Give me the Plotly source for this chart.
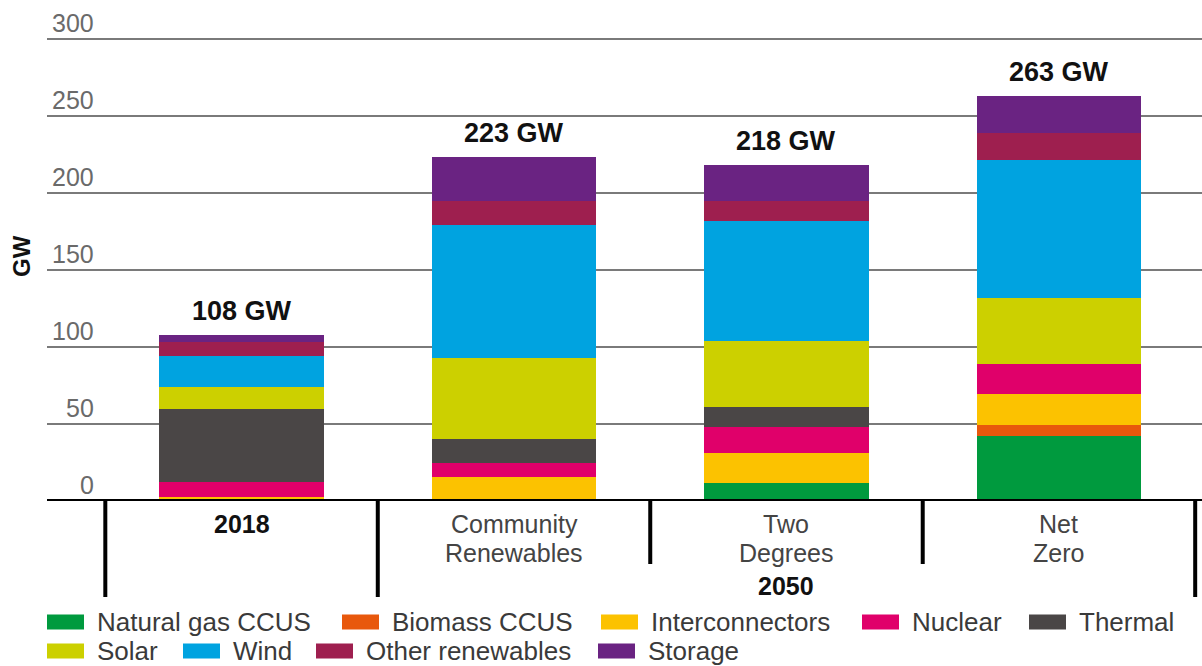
import plotly.graph_objects as go

# Installed capacity by technology (GW)
scenarios = ["2018", "Community Renewables", "Two Degrees", "Net Zero"]
scenario_lines = [["<b>2018</b>"], ["Community", "Renewables"], ["Two", "Degrees"], ["Net", "Zero"]]

natural_gas_ccus = [0, 0, 11.5, 42.5]
biomass_ccus = [0, 0, 0, 7]
interconnectors = [2.5, 15.5, 19.5, 20]
nuclear = [10, 9, 17, 19.5]
thermal = [47.5, 16, 13, 0]
solar = [14, 52.5, 43, 42.5]
wind = [20, 86, 78, 90]
other_renewables = [9.5, 15.5, 13, 17.5]
storage = [4.5, 28.5, 23, 24]

series_names = ["Natural gas CCUS", "Biomass CCUS", "Interconnectors", "Nuclear", "Thermal",
                "Solar", "Wind", "Other renewables", "Storage"]
series_values = [natural_gas_ccus, biomass_ccus, interconnectors, nuclear, thermal,
                 solar, wind, other_renewables, storage]
series_colors = ["#009a3e", "#e8580c", "#fcc200", "#e0006a", "#4a4646",
                 "#ccd000", "#00a3e0", "#9e1f4f", "#6a2382"]

y_ticks = [0, 50, 100, 150, 200, 250, 300]

W, H = 1202, 666
L, R, T, B = 47, 0, 31, 165
PLOT_W, PLOT_H = W - L - R, H - T - B
FONT = "Liberation Sans, Arial, sans-serif"


def px_x(p):
    return (p - L) / PLOT_W


def px_y(p):
    return (H - B - p) / PLOT_H


fig = go.Figure()
for name, vals, color in zip(series_names, series_values, series_colors):
    fig.add_trace(go.Bar(x=list(range(len(scenarios))), y=vals, name=name,
                         marker=dict(color=color, line=dict(width=0)), showlegend=False))

totals = [sum(v[i] for v in series_values) for i in range(len(scenarios))]

annotations = []
shapes = []

# Totals above each bar
for i, t in enumerate(totals):
    annotations.append(dict(x=i, y=t, xref="x", yref="y", text=f"<b>{t:.0f} GW</b>", showarrow=False,
                            yanchor="bottom", yshift=7, font=dict(family=FONT, size=27, color="#111111")))

# Y tick labels sitting above the gridlines
for v in y_ticks:
    annotations.append(dict(x=px_x(96), y=v, xref="paper", yref="y", text=str(v), showarrow=False,
                            xanchor="right", yanchor="bottom", yshift=0,
                            font=dict(family=FONT, size=25, color="#6a6a6a")))

annotations.append(dict(x=px_x(22), y=px_y(256), xref="paper", yref="paper", text="<b>GW</b>",
                        textangle=-90, showarrow=False, xanchor="center", yanchor="middle",
                        font=dict(family=FONT, size=24, color="#111111")))

# Category labels
line_y = [524, 553]
for i, lines in enumerate(scenario_lines):
    for k, ln in enumerate(lines):
        annotations.append(dict(x=i, y=px_y(line_y[k]), xref="x", yref="paper", text=ln, showarrow=False,
                                yanchor="middle",
                                font=dict(family=FONT, size=25,
                                          color="#111111" if "<b>" in ln else "#444444")))
annotations.append(dict(x=2, y=px_y(586), xref="x", yref="paper", text="<b>2050</b>", showarrow=False,
                        yanchor="middle", font=dict(family=FONT, size=25, color="#111111")))

# Baseline and group separators
shapes.append(dict(type="line", xref="paper", yref="y", x0=0, x1=1, y0=0, y1=0,
                   line=dict(color="black", width=4)))
for pos, bottom in [(-0.5, 597), (0.5, 597), (1.5, 564), (2.5, 564), (3.5, 597)]:
    shapes.append(dict(type="line", xref="x", yref="paper", x0=pos, x1=pos, y0=px_y(501), y1=px_y(bottom),
                       line=dict(color="black", width=4)))

# Legend
legend_rows = [
    (622, [("Natural gas CCUS", 47), ("Biomass CCUS", 342), ("Interconnectors", 601),
           ("Nuclear", 862), ("Thermal", 1029)]),
    (651, [("Solar", 47), ("Wind", 183), ("Other renewables", 316), ("Storage", 598)]),
]
color_of = dict(zip(series_names, series_colors))
for yc, items in legend_rows:
    for name, x0 in items:
        shapes.append(dict(type="rect", xref="paper", yref="paper", x0=px_x(x0), x1=px_x(x0 + 37),
                           y0=px_y(yc - 7.5), y1=px_y(yc + 7.5), fillcolor=color_of[name],
                           line=dict(width=0)))
        annotations.append(dict(x=px_x(x0 + 48), y=px_y(yc), xref="paper", yref="paper", text=name,
                                showarrow=False, xanchor="left", yanchor="middle",
                                font=dict(family=FONT, size=26, color="#3a3a3a")))

fig.update_layout(
    width=W, height=H,
    margin=dict(l=L, r=R, t=T, b=B, pad=0),
    paper_bgcolor="white", plot_bgcolor="white",
    barmode="stack", bargap=0.395,
    xaxis=dict(range=[-0.714, 3.525], showticklabels=False, showgrid=False,
               zeroline=False, showline=False, ticks=""),
    yaxis=dict(range=[0, 305], tickvals=y_ticks[1:], showticklabels=False, showgrid=True,
               gridcolor="#7a7a7a", gridwidth=1.5, zeroline=False, showline=False, ticks=""),
    annotations=annotations,
    shapes=shapes,
    showlegend=False,
)

fig.write_html("out.html")
